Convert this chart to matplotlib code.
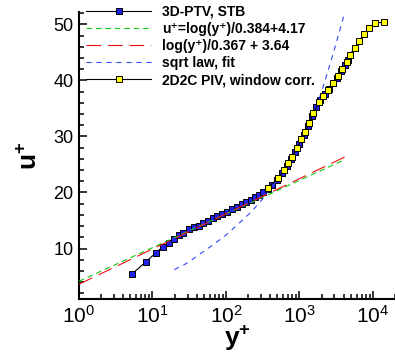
import numpy as np
import matplotlib
matplotlib.use('Agg')
import matplotlib.pyplot as plt
from matplotlib.ticker import MultipleLocator, LogLocator, NullFormatter

plt.rcParams['font.family'] = ['Liberation Sans', 'DejaVu Sans']
plt.rcParams['mathtext.fontset'] = 'custom'
plt.rcParams['mathtext.rm'] = 'Liberation Sans'
plt.rcParams['mathtext.bf'] = 'Liberation Sans:bold'
plt.rcParams['lines.scale_dashes'] = False

# 3D-PTV (STB) profile
ptv_yplus = [5.3, 8.1, 11.0, 13.8, 16.6, 19.4, 22.7, 26.0, 31.0, 36.3, 42.5,
             48.7, 56.3, 66.0, 75.6, 88.7, 104, 121.5, 142, 166, 190, 216, 245,
             280, 322, 370, 427, 500, 580, 670, 770, 880, 1000, 1140, 1300,
             1480, 1690, 1930, 2200, 2500, 2850, 3250, 3700, 4200, 4600]
ptv_uplus = [5.5, 7.6, 9.2, 10.3, 11.0, 11.7, 12.4, 12.8, 13.4, 13.8, 14.1,
             14.6, 15.0, 15.4, 15.8, 16.2, 16.5, 17.0, 17.4, 17.9, 18.3, 18.75,
             19.2, 19.6, 20.1, 20.7, 21.4, 22.2, 23.5, 24.8, 26.0, 27.3, 28.7,
             30.3, 31.9, 33.6, 35.2, 36.5, 37.5, 38.4, 39.5, 40.5, 41.6, 42.8,
             43.7]

# 2D2C PIV with window correction
piv_yplus = [370, 515, 617, 700, 801, 937, 1063, 1190, 1350, 1550, 1850, 2120,
             2450, 2900, 3400, 3850, 4400, 4850, 5680, 6500, 7600, 8900, 10600,
             14000]
piv_uplus = [20.8, 22.6, 24.1, 25.3, 26.3, 28.0, 29.5, 30.8, 32.4, 34.2, 36.1,
             37.2, 38.2, 39.6, 40.8, 42.0, 43.2, 44.6, 45.8, 47.0, 48.3, 49.4,
             50.2, 50.4]

# sqrt law fit
sqrt_yplus = [19.8, 27, 34.5, 45, 58, 72, 98, 145, 216, 311, 450, 650, 900,
              1250, 1850, 2050, 2680, 3400, 4160]
sqrt_uplus = [6.25, 7.1, 8.0, 9.1, 10.1, 11.0, 12.3, 14.3, 16.4, 18.75, 21.5,
              24.3, 27.6, 31.5, 36.7, 38.4, 43.4, 48.1, 52.2]

# log-law ranges
kappa1, B1, ymax1 = 0.384, 4.17, 3900
kappa2, B2, ymax2 = 0.367, 3.64, 4700

fig = plt.figure(figsize=(3.95, 3.52), dpi=100)
ax = fig.add_axes([79 / 395, 1 - 299 / 352, 316 / 395, 287 / 352])

ax.plot(ptv_yplus, ptv_uplus, color='black', lw=0.8, marker='s', ms=3.8,
        mfc='#2222ee', mec='black', mew=0.7, zorder=2,
        label='3D-PTV, STB')

y1 = np.logspace(0, np.log10(ymax1), 200)
ax.plot(y1, np.log(y1) / kappa1 + B1, color='#11cc11', lw=0.8,
        dashes=(4, 2.8), zorder=3, label='u\u207a=log(y\u207a)/0.384+4.17')

y2 = np.logspace(0, np.log10(ymax2), 200)
ax.plot(y2, np.log(y2) / kappa2 + B2, color='#ee1111', lw=0.8,
        dashes=(10.5, 5), zorder=4, label='log(y\u207a)/0.367 + 3.64')

ax.plot(sqrt_yplus, sqrt_uplus, color='#3344ff', lw=0.8, dashes=(3.6, 3.6),
        zorder=3, label='sqrt law, fit')

ax.plot(piv_yplus, piv_uplus, color='black', lw=0.8, marker='s', ms=4.6,
        mfc='#ffff00', mec='black', mew=0.7, zorder=5,
        label='2D2C PIV, window corr.')

ax.set_xscale('log')
ax.set_xlim(1, 2e4)
ax.set_ylim(1, 52.2)

ax.yaxis.set_major_locator(MultipleLocator(10))
ax.yaxis.set_minor_locator(MultipleLocator(2))
ax.xaxis.set_major_locator(LogLocator(base=10, numticks=10))
ax.xaxis.set_minor_locator(LogLocator(base=10, subs=np.arange(2, 10), numticks=20))
ax.xaxis.set_minor_formatter(NullFormatter())

for side in ['top', 'right']:
    ax.spines[side].set_visible(False)
for side in ['left', 'bottom']:
    ax.spines[side].set_linewidth(1.5)

ax.tick_params(which='both', direction='in', width=1.1)
ax.tick_params(which='major', length=6)
ax.tick_params(which='minor', length=3.5)
ax.tick_params(axis='x', labelsize=15, pad=4)
ax.tick_params(axis='y', labelsize=13, pad=4)

ax.set_xlabel(r'$\mathbf{y^{+}}$', fontsize=19, labelpad=-2)
ax.set_ylabel(r'$\mathbf{u^{+}}$', fontsize=19, labelpad=8)

ax.legend(loc='upper left', bbox_to_anchor=(86 / 395, 1 - 5 / 352),
          bbox_transform=fig.transFigure, frameon=False, borderpad=0,
          borderaxespad=0, handlelength=4.7, handletextpad=0.8,
          labelspacing=0.22, prop={'size': 10, 'weight': 'bold'})

fig.savefig('out.png', dpi=100)
